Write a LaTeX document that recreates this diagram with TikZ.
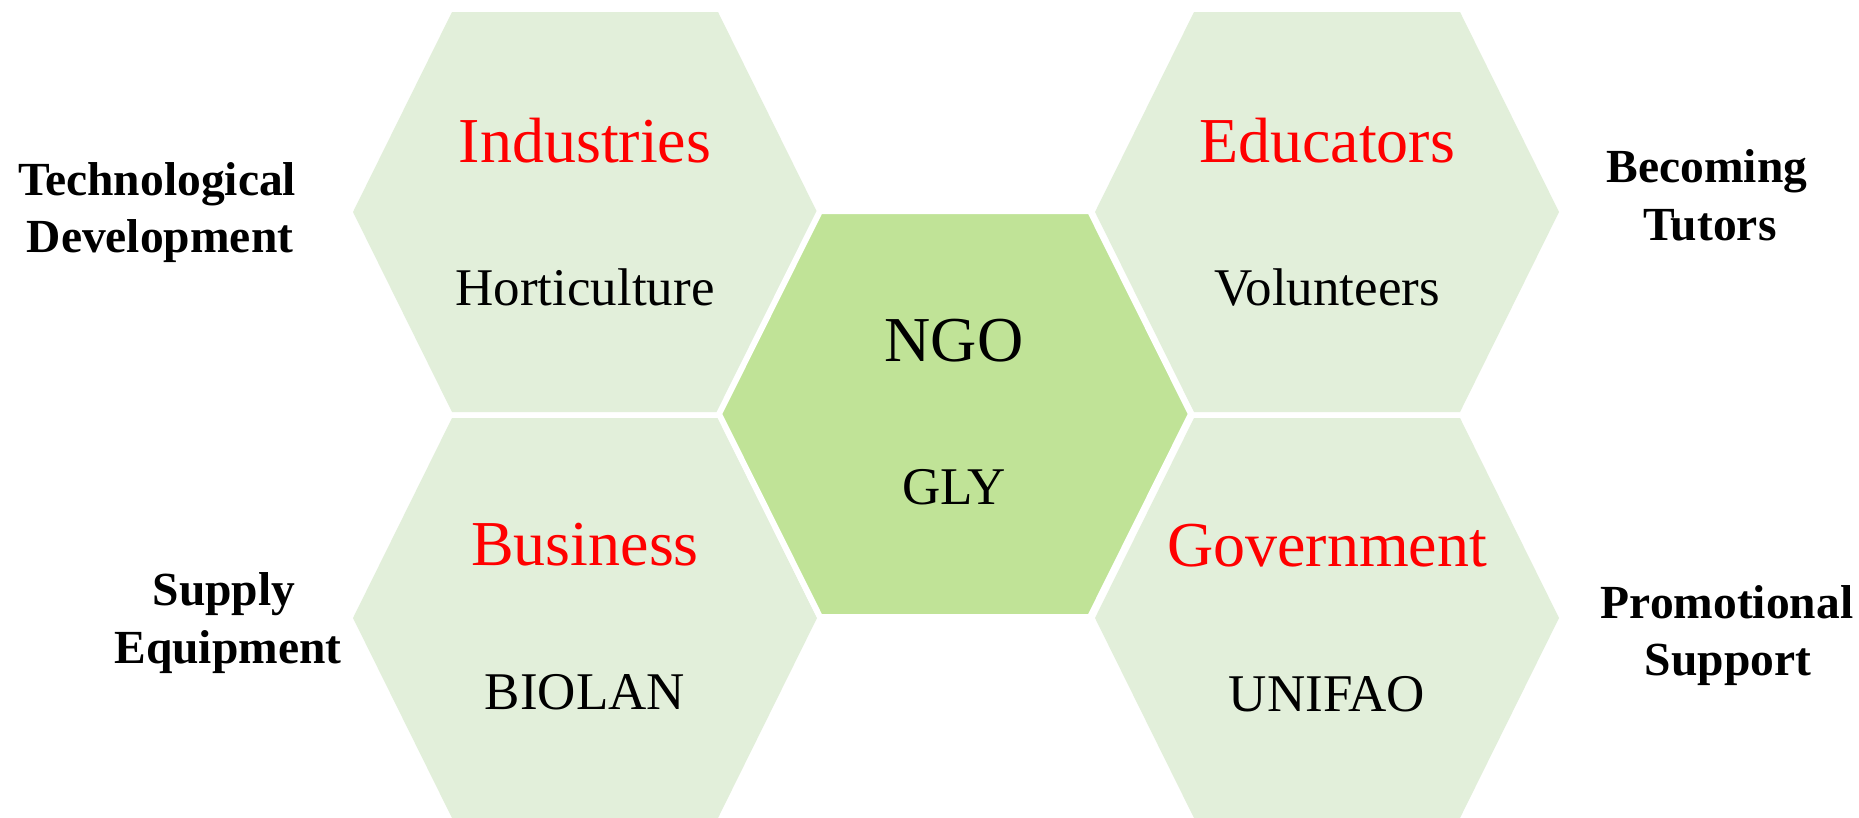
\documentclass[tikz,border=0pt]{standalone}
\usepackage{fontspec}
\setmainfont{Liberation Serif}
\definecolor{hexlight}{RGB}{226,239,218}
\definecolor{hexmid}{RGB}{192,227,151}
\definecolor{redlab}{RGB}{255,0,0}
\begin{document}
\begin{tikzpicture}[x=1pt,y=-1pt,
  hexout/.style={fill=hexlight},
  hexin/.style={fill=hexmid, draw=white, line width=6pt},
  title/.style={anchor=base, text=redlab, inner sep=0pt, font=\fontsize{64}{70}\selectfont},
  sub/.style={anchor=base, text=black, inner sep=0pt, font=\fontsize{53}{60}\selectfont},
  side/.style={anchor=base, text=black, inner sep=0pt, font=\bfseries\fontsize{47.5}{56}\selectfont}]
\useasboundingbox (0,0) rectangle (1859,817);
\fill[white] (0,0) rectangle (1859,817);
% hexagon centres
\coordinate (tl) at (585,212);
\coordinate (bl) at (585,618);
\coordinate (tr) at (1327,212);
\coordinate (br) at (1327,618);
\coordinate (cc) at (955,414);
% outer hexagons
\fill[hexout, shift={(tl)}] (-232,0) -- (-133,-200) -- (133,-200) -- (232,0) -- (133,200) -- (-133,200) -- cycle;
\fill[hexout, shift={(bl)}] (-232,0) -- (-133,-200) -- (133,-200) -- (232,0) -- (133,200) -- (-133,200) -- cycle;
\fill[hexout, shift={(tr)}] (-232,0) -- (-133,-200) -- (133,-200) -- (232,0) -- (133,200) -- (-133,200) -- cycle;
\fill[hexout, shift={(br)}] (-232,0) -- (-133,-200) -- (133,-200) -- (232,0) -- (133,200) -- (-133,200) -- cycle;
% centre hexagon
\filldraw[hexin, shift={(cc)}] (-236,0) -- (-135,-203) -- (135,-203) -- (236,0) -- (135,203) -- (-135,203) -- cycle;
% texts in hexagons
\node[title] (ind) at (585,162) {Industries};
\node[sub] (hort) at (585,305) {Horticulture};
\node[title] (edu) at (1327,162) {Educators};
\node[sub] (vol) at (1327,305) {Volunteers};
\node[title] (bus) at (585,565) {Business};
\node[sub] (bio) at (585,709) {BIOLAN};
\node[title] (gov) at (1327,566) {Government};
\node[sub] (uni) at (1327,711) {UNIFAO};
\node[anchor=base, inner sep=0pt, font=\fontsize{64}{70}\selectfont] (ngo) at (954,361) {NGO};
\node[anchor=base, inner sep=0pt, font=\fontsize{53}{60}\selectfont] (gly) at (954,504) {GLY};
% side labels
\node[side] (tech1) at (157,195) {Technological};
\node[side] (tech2) at (160,252) {Development};
\node[side] (beco1) at (1707,182) {Becoming};
\node[side] (beco2) at (1710,240) {Tutors};
\node[side] (sup1) at (224,605) {Supply};
\node[side] (sup2) at (228,663) {Equipment};
\node[side] (prom1) at (1727,618) {Promotional};
\node[side] (prom2) at (1728,675) {Support};
\end{tikzpicture}
\end{document}
